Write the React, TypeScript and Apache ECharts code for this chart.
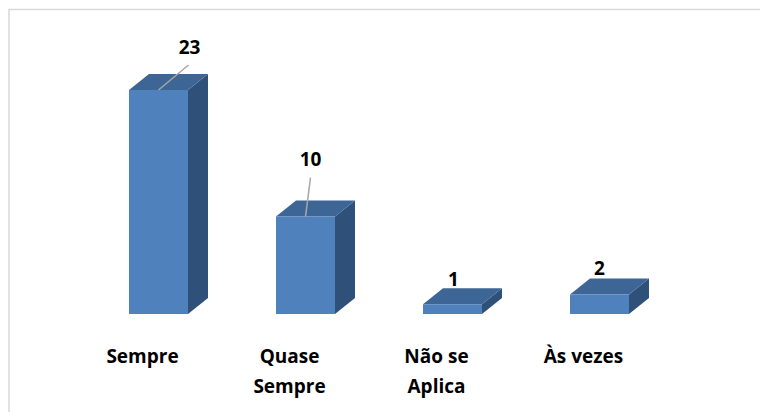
import React, { useEffect, useRef } from "react";
import * as echarts from "echarts";

const categories = ["Sempre", "Quase\nSempre", "Não se\nAplica", "Às vezes"];
const values = [23, 10, 1, 2];
// label anchor offset from the top-centre of each bar's front face
const labelOffsets = [[31, -43], [5, -58], [1, -25], [0, -27]];
const leaderEnds = [[30, -25], [5, -39], null, null];

const FRONT = "#4f81bd";
const TOP = "#3d6595";
const SIDE = "#2f5179";
const DX = 20;
const DY = -16;
const BAR_W = 59;
const FONT = "Open Sans";

function renderBar(params: any, api: any) {
  const i = params.dataIndex;
  const c = api.coord([api.value(0), api.value(1)]);
  const base = api.coord([api.value(0), 0]);
  const x0 = c[0] - BAR_W / 2;
  const x1 = c[0] + BAR_W / 2;
  const yt = c[1];
  const yb = base[1];
  const [lx, ly] = labelOffsets[i];
  const end = leaderEnds[i];
  const children: any[] = [
    { type: "polygon", shape: { points: [[x1, yt], [x1 + DX, yt + DY], [x1 + DX, yb + DY], [x1, yb]] }, style: { fill: SIDE } },
    { type: "polygon", shape: { points: [[x0, yt], [x0 + DX, yt + DY], [x1 + DX, yt + DY], [x1, yt]] }, style: { fill: TOP } },
    { type: "rect", shape: { x: x0, y: yt, width: BAR_W, height: yb - yt }, style: { fill: FRONT } },
  ];
  if (end) {
    children.push({
      type: "line",
      shape: { x1: c[0], y1: yt, x2: c[0] + end[0], y2: yt + end[1] },
      style: { stroke: "#a6a6a6", lineWidth: 1.5 },
    });
  }
  children.push({
    type: "text",
    x: c[0] + lx,
    y: yt + ly,
    style: {
      text: String(values[i]),
      fill: "#000",
      font: `bold 19px ${FONT}`,
      align: "center",
      verticalAlign: "middle",
    },
  });
  return { type: "group", children };
}

export default function App() {
  const ref = useRef<HTMLDivElement>(null);
  useEffect(() => {
    const chart = echarts.init(ref.current!, null, { renderer: "svg" });
    chart.setOption({
      animation: false,
      backgroundColor: "#fff",
      graphic: [
        {
          type: "polyline",
          shape: { points: [[9, 412], [9, 9.5], [760, 9.5]] },
          style: { fill: "none", stroke: "#d9d9d9", lineWidth: 1.5 },
          silent: true,
        },
      ],
      grid: { left: 85, right: 87, top: 51, bottom: 98 },
      xAxis: {
        type: "category",
        data: categories,
        axisLine: { show: false },
        axisTick: { show: false },
        axisLabel: {
          interval: 0,
          color: "#000",
          fontFamily: FONT,
          fontWeight: "bold",
          fontSize: 19,
          lineHeight: 30,
          margin: 27,
          padding: [0, 32, 0, 0],
        },
      },
      yAxis: { type: "value", min: 0, max: 27, show: false },
      series: [
        {
          type: "custom",
          renderItem: renderBar,
          data: values.map((v, i) => [i, v]),
          encode: { x: 0, y: 1 },
          clip: false,
        },
      ],
    });
    return () => chart.dispose();
  }, []);
  return <div ref={ref} style={{ position: "fixed", left: 0, top: 0, width: 760, height: 412 }} />;
}
